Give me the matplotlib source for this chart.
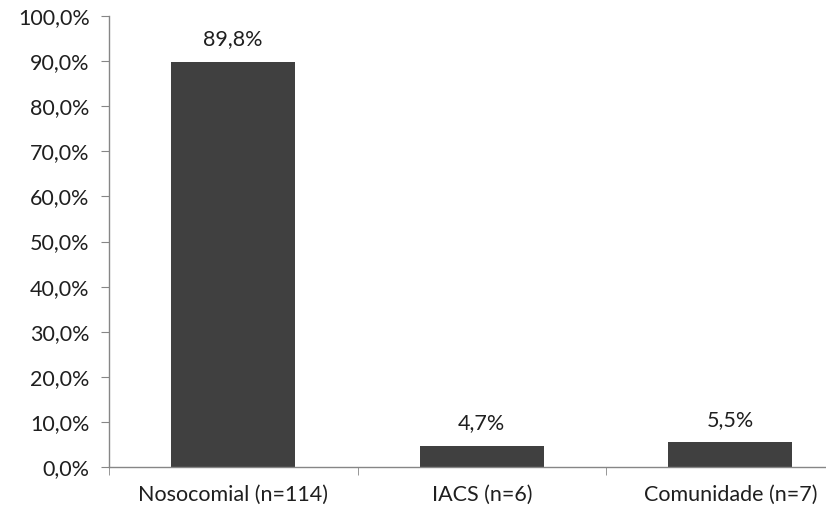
import matplotlib
matplotlib.use("Agg")
import matplotlib.pyplot as plt
from matplotlib.ticker import FixedLocator, FuncFormatter

categories = ["Nosocomial (n=114)", "IACS (n=6)", "Comunidade (n=7)"]
values = [89.8, 4.7, 5.5]
yticks = [0, 10, 20, 30, 40, 50, 60, 70, 80, 90, 100]

plt.rcParams["font.family"] = ["Lato", "DejaVu Sans"]
text_color = "#1f1f1f"
axis_color = "#868686"
bar_color = "#404040"

fig = plt.figure(figsize=(8.26, 5.13), dpi=100)
# plot area runs past the right edge of the canvas
ax = fig.add_axes([109 / 826, 1 - 467 / 513, 745.5 / 826, 451 / 513])

x = list(range(len(categories)))
ax.bar(x, values, width=0.5, color=bar_color, zorder=2)

def pct(v):
    return f"{v:.1f}".replace(".", ",") + "%"

for xi, v in zip(x, values):
    ax.annotate(pct(v), (xi, v), xytext=(0, 9), textcoords="offset points",
                ha="center", va="bottom", fontsize=15.5, color=text_color)

ax.set_xlim(-0.5, 2.5)
ax.set_ylim(0, 100)
ax.set_yticks(yticks)
ax.yaxis.set_major_formatter(FuncFormatter(lambda v, p: pct(v)))
ax.set_xticks(x)
ax.set_xticklabels(categories)
ax.xaxis.set_minor_locator(FixedLocator([-0.5, 0.5, 1.5, 2.5]))

for s in ["top", "right"]:
    ax.spines[s].set_visible(False)
for s in ["left", "bottom"]:
    ax.spines[s].set_color(axis_color)
    ax.spines[s].set_linewidth(1.0)

ax.tick_params(axis="y", direction="out", length=6, color=axis_color,
               labelsize=15.5, labelcolor=text_color, pad=8)
ax.tick_params(axis="x", which="major", length=0, labelsize=15.5,
               labelcolor=text_color, pad=13)
ax.tick_params(axis="x", which="minor", direction="out", length=6,
               color=axis_color)

fig.savefig("out.png", dpi=100)
